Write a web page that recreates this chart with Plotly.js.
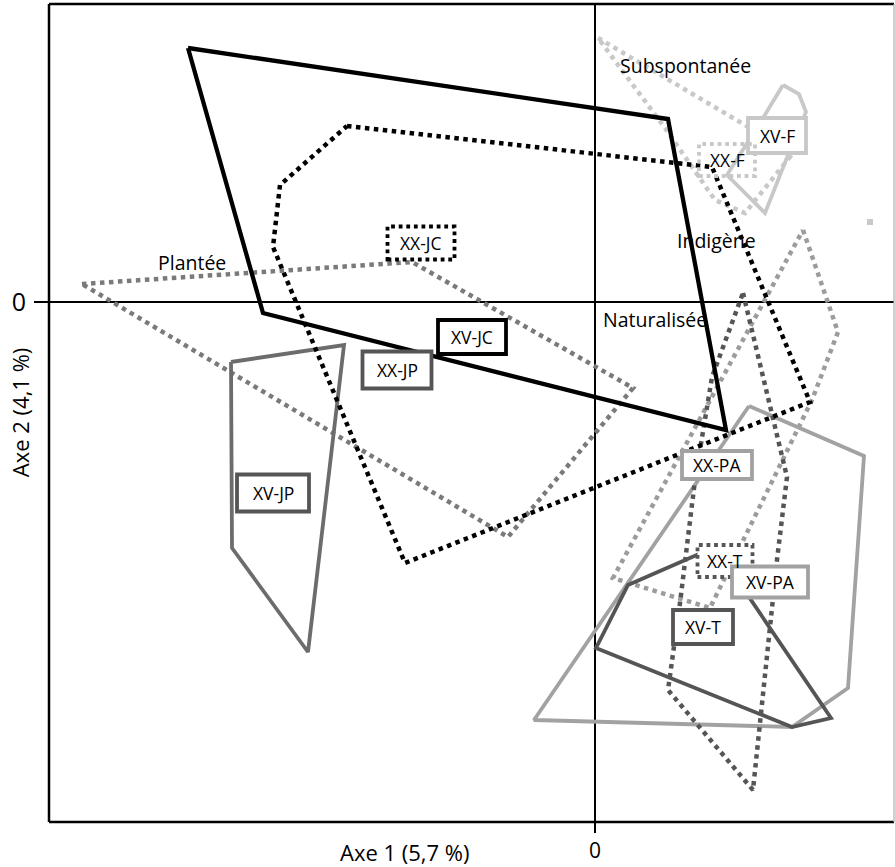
<!DOCTYPE html>
<html>
<head>
<meta charset="utf-8">
<script src="https://cdn.plot.ly/plotly-3.0.1.min.js"></script>
<style>html,body{margin:0;padding:0;background:#fff;}#chart{width:895px;height:867px;}</style>
</head>
<body>
<div id="chart"></div>
<script>
// ---- Data (PCA scores) ----
// Polygons (convex hulls) per group
const xvJcX = [-4.07, 0.73, 1.31, -3.32];
const xvJcY = [2.54, 1.83, -1.28, -0.11];

const xxJcX = [-2.48, 1.17, 2.15, -1.90, -3.22, -3.15];
const xxJcY = [1.76, 1.35, -1.00, -2.61, 0.55, 1.17];

const xvJpX = [-3.64, -2.51, -2.87, -3.63];
const xvJpY = [-0.60, -0.43, -3.50, -2.46];

const xxJpX = [-5.13, -1.83, 0.38, -0.87];
const xxJpY = [0.18, 0.40, -0.86, -2.35];

const xvFX = [1.88, 2.04, 2.11, 1.95, 1.70, 1.32, 1.68];
const xvFY = [2.17, 2.08, 1.90, 1.52, 0.89, 1.27, 1.84];

const xxFX = [0.03, 1.55, 1.95, 1.50, 1.20, 0.70];
const xxFY = [2.64, 1.74, 1.45, 0.89, 1.02, 1.74];

const xxPaX = [2.08, 2.43, 2.17, 1.15, 0.18];
const xxPaY = [0.72, -0.30, -0.98, -3.06, -2.76];

const xvPaX = [1.54, 2.69, 2.53, 1.97, -0.61];
const xvPaY = [-1.04, -1.54, -3.86, -4.25, -4.18];

const xvTX = [1.04, 0.33, 0.01, 1.97, 2.36, 1.39];
const xvTY = [-2.52, -2.83, -3.46, -4.25, -4.16, -2.73];

const xxTX = [1.48, 1.92, 1.82, 1.58, 0.73, 0.85, 1.00, 1.17];
const xxTY = [0.09, -1.75, -2.58, -4.88, -3.88, -3.01, -1.78, -0.75];

// isolated point
const extraX = [2.75];
const extraY = [0.80];

// group labels (centroids)
const labelText = ['XV-F', 'XX-F', 'XX-JC', 'XV-JC', 'XX-JP', 'XV-JP', 'XX-PA', 'XX-T', 'XV-PA', 'XV-T'];
const labelX = [1.82, 1.32, -1.74, -1.23, -1.98, -3.22, 1.22, 1.30, 1.75, 1.08];
const labelY = [1.665, 1.42, 0.59, -0.35, -0.68, -1.91, -1.63, -2.59, -2.80, -3.25];

// status labels
const statusText = ['Subspontanée', 'Indigène', 'Naturalisée', 'Plantée'];
const statusX = [0.90, 1.21, 0.60, -4.03];
const statusY = [2.37, 0.62, -0.17, 0.40];

// axis labels
const xTitle = 'Axe 1 (5,7 %)';
const yTitle = 'Axe 2 (4,1 %)';

// ---- Styles ----
const FONT = '"Open Sans", "Noto Sans", sans-serif';
function closed(a) { return a.concat([a[0]]); }

const polys = [
  {x: xxJpX, y: xxJpY, color: '#7a7a7a', dash: 'dot', width: 4.5},
  {x: xxFX, y: xxFY, color: '#c8c8c8', dash: 'dot', width: 4.5},
  {x: xxPaX, y: xxPaY, color: '#9c9c9c', dash: 'dot', width: 4.5},
  {x: xvFX, y: xvFY, color: '#c8c8c8', dash: 'solid', width: 3.8},
  {x: xvPaX, y: xvPaY, color: '#a2a2a2', dash: 'solid', width: 3.8},
  {x: xvJpX, y: xvJpY, color: '#6c6c6c', dash: 'solid', width: 3.8},
  {x: xxTX, y: xxTY, color: '#555555', dash: 'dot', width: 4.5},
  {x: xvTX, y: xvTY, color: '#555555', dash: 'solid', width: 3.8},
  {x: xxJcX, y: xxJcY, color: '#000000', dash: 'dot', width: 4.5},
  {x: xvJcX, y: xvJcY, color: '#000000', dash: 'solid', width: 4.3}
];

const traces = polys.map(p => ({
  type: 'scatter', mode: 'lines',
  x: closed(p.x), y: closed(p.y),
  line: {color: p.color, width: p.width, dash: p.dash},
  hoverinfo: 'skip', showlegend: false
}));
traces.push({
  type: 'scatter', mode: 'markers', x: extraX, y: extraY,
  marker: {symbol: 'square', size: 6, color: '#c8c8c8'},
  hoverinfo: 'skip', showlegend: false
});

// box styles per label (same order as labelText)
const boxW = [58, 56, 67, 68, 69, 72, 70, 55, 76, 60];
const boxH = [35, 32, 33, 34, 37, 37, 28, 32, 31, 34];
const boxColor = ['#c8c8c8', '#c8c8c8', '#000000', '#000000', '#555555', '#555555', '#a2a2a2', '#555555', '#a2a2a2', '#555555'];
const boxDash = ['solid', 'dot', 'dot', 'solid', 'solid', 'solid', 'solid', 'dot', 'solid', 'solid'];
const boxFill = ['#ffffff', 'rgba(0,0,0,0)', '#ffffff', '#ffffff', '#ffffff', '#ffffff', '#ffffff', '#ffffff', '#ffffff', '#ffffff'];

const shapes = [];
labelText.forEach((t, i) => {
  shapes.push({
    type: 'rect', xref: 'x', yref: 'y', layer: 'above',
    xsizemode: 'pixel', ysizemode: 'pixel',
    xanchor: labelX[i], yanchor: labelY[i],
    x0: -boxW[i] / 2, x1: boxW[i] / 2, y0: -boxH[i] / 2, y1: boxH[i] / 2,
    line: {color: boxColor[i], width: 3.8, dash: boxDash[i]},
    fillcolor: boxFill[i]
  });
});
// frame
shapes.push({type: 'line', xref: 'paper', yref: 'paper', x0: 0, x1: 1, y0: 1, y1: 1, line: {color: '#000', width: 2.5}, layer: 'above'});
shapes.push({type: 'line', xref: 'paper', yref: 'paper', x0: 0, x1: 0, y0: 0, y1: 1, line: {color: '#000', width: 2.5}, layer: 'above'});
shapes.push({type: 'line', xref: 'paper', yref: 'paper', x0: 0, x1: 1, y0: 0, y1: 0, line: {color: '#000', width: 2.5}, layer: 'above'});
shapes.push({type: 'line', xref: 'paper', yref: 'paper', x0: 1, x1: 1, y0: 0, y1: 1, line: {color: '#b0b0b0', width: 1.2}, layer: 'above'});

const annotations = [];
labelText.forEach((t, i) => {
  annotations.push({text: t, x: labelX[i], y: labelY[i], xref: 'x', yref: 'y', showarrow: false,
    font: {family: FONT, size: 17.5, color: '#000'}});
});
statusText.forEach((t, i) => {
  annotations.push({text: t, x: statusX[i], y: statusY[i], xref: 'x', yref: 'y', showarrow: false,
    font: {family: FONT, size: 19.5, color: '#000'}});
});
annotations.push({text: xTitle, xref: 'paper', yref: 'paper', x: 0.4213, y: -0.037, xanchor: 'center', yanchor: 'middle',
  showarrow: false, font: {family: FONT, size: 22, color: '#000'}});
annotations.push({text: yTitle, xref: 'paper', yref: 'paper', x: -0.0343, y: 0.501, xanchor: 'center', yanchor: 'middle',
  textangle: -90, showarrow: false, font: {family: FONT, size: 22, color: '#000'}});

const layout = {
  width: 895, height: 867,
  margin: {l: 49, r: 1, t: 4, b: 45},
  paper_bgcolor: '#fff', plot_bgcolor: '#fff',
  showlegend: false,
  xaxis: {
    range: [-5.46, 2.99], showgrid: false, showline: false,
    zeroline: true, zerolinecolor: '#000', zerolinewidth: 1.6,
    tickvals: [0], ticktext: ['0'], ticks: 'outside', ticklen: 10, tickwidth: 2, tickcolor: '#000',
    ticklabelstandoff: 0,
    tickfont: {family: FONT, size: 21, color: '#000'}
  },
  yaxis: {
    range: [-5.20, 2.98], showgrid: false, showline: false,
    zeroline: true, zerolinecolor: '#000', zerolinewidth: 1.6,
    tickvals: [0], ticktext: ['0'], ticks: 'outside', ticklen: 14, tickwidth: 2, tickcolor: '#000',
    ticklabelstandoff: 3,
    tickfont: {family: FONT, size: 25, color: '#000'}
  },
  shapes: shapes,
  annotations: annotations
};

Plotly.newPlot('chart', traces, layout, {displayModeBar: false, staticPlot: true});
</script>
</body>
</html>
